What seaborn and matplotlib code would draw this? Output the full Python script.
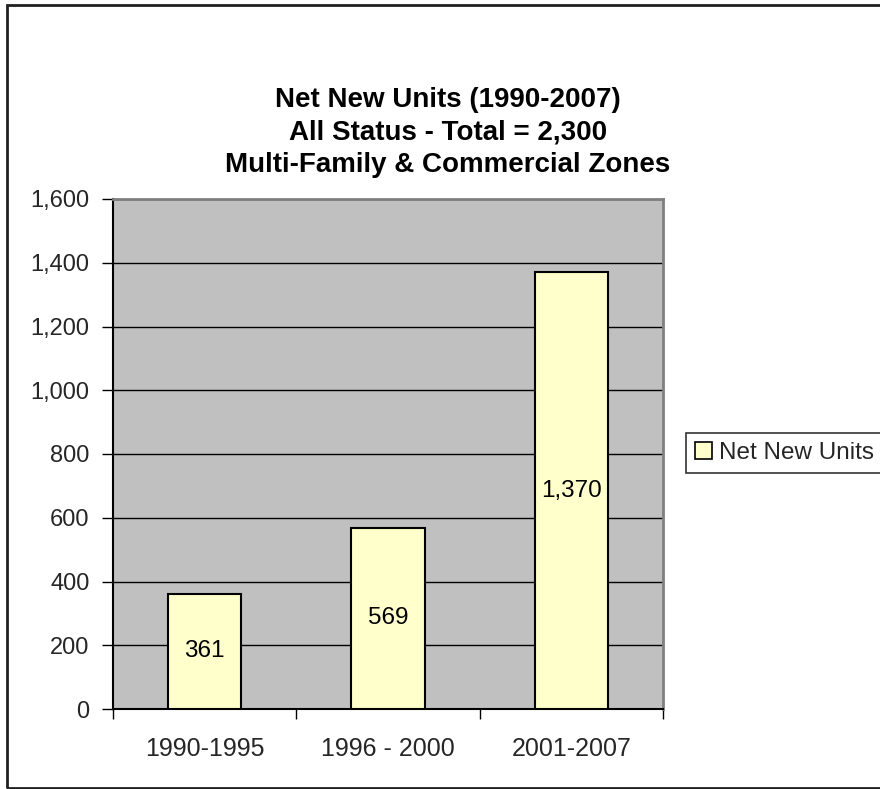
import matplotlib
matplotlib.use("Agg")
import matplotlib.pyplot as plt
import seaborn as sns
import pandas as pd
from matplotlib.ticker import FuncFormatter, FixedLocator
from matplotlib.patches import Rectangle, Patch

categories = ["1990-1995", "1996 - 2000", "2001-2007"]
values = [361, 569, 1370]
series_name = "Net New Units"
title_lines = ["Net New Units (1990-2007)", "All Status - Total = 2,300",
               "Multi-Family & Commercial Zones"]

df = pd.DataFrame({"period": categories, "units": values})

sns.set_theme(style="white")
plt.rcParams['font.family'] = ['Liberation Sans', 'DejaVu Sans']

fig = plt.figure(figsize=(8.8, 7.89), dpi=100)
ax = fig.add_axes([113/880, 1-709/789, 550/880, 510/789])

sns.barplot(data=df, x="period", y="units", color="#FFFFCC", width=0.40,
            edgecolor="black", linewidth=1.5, ax=ax, zorder=3, saturation=1)

ax.set_facecolor("#C0C0C0")
ax.set_ylim(0, 1600)
ax.set_xlim(-0.5, 2.5)
ax.set_yticks(range(0, 1601, 200))
ax.yaxis.set_major_formatter(FuncFormatter(lambda v, p: f"{int(v):,}"))
ax.yaxis.grid(True, color="black", linewidth=1.0, zorder=1)
ax.set_axisbelow(True)
ax.set_xlabel("")
ax.set_ylabel("")

ax.tick_params(axis="y", which="major", left=True, direction="out", length=8,
               width=1, color="black", labelsize=17, pad=9)
ax.tick_params(axis="x", which="major", bottom=False, labelsize=18, pad=14)
ax.xaxis.set_minor_locator(FixedLocator([-0.5, 0.5, 1.5, 2.5]))
ax.tick_params(axis="x", which="minor", bottom=True, direction="out", length=7,
               width=1, color="black")

for s in ["left", "bottom"]:
    ax.spines[s].set_color("black")
    ax.spines[s].set_linewidth(1.5)
for s in ["top", "right"]:
    ax.spines[s].set_color("#808080")
    ax.spines[s].set_linewidth(2)

for i, v in enumerate(values):
    ax.text(i, v / 2, f"{v:,}", ha="center", va="center", fontsize=17.5,
            color="black", zorder=5)

ys = [1-100/789, 1-133/789, 1-165/789]
for t, y in zip(title_lines, ys):
    fig.text(448/880, y, t, ha="center", va="center", fontsize=20,
             fontweight="bold", color="black")

leg = fig.legend(handles=[Patch(facecolor="#FFFFCC", edgecolor="black",
                                linewidth=1.2, label=series_name)],
                 loc="center left", bbox_to_anchor=(686/880, 1-453/789),
                 fontsize=17.5, frameon=True, fancybox=False, handlelength=0.7,
                 handleheight=0.7, handletextpad=0.3, borderpad=0.35,
                 borderaxespad=0)
leg.get_frame().set_edgecolor("black")
leg.get_frame().set_linewidth(1.2)

fig.patches.append(Rectangle((7/880, 1-788/789), 1.0, 783/789,
                             transform=fig.transFigure, fill=False,
                             edgecolor="#202020", linewidth=2))

fig.savefig("out.png", dpi=100)
